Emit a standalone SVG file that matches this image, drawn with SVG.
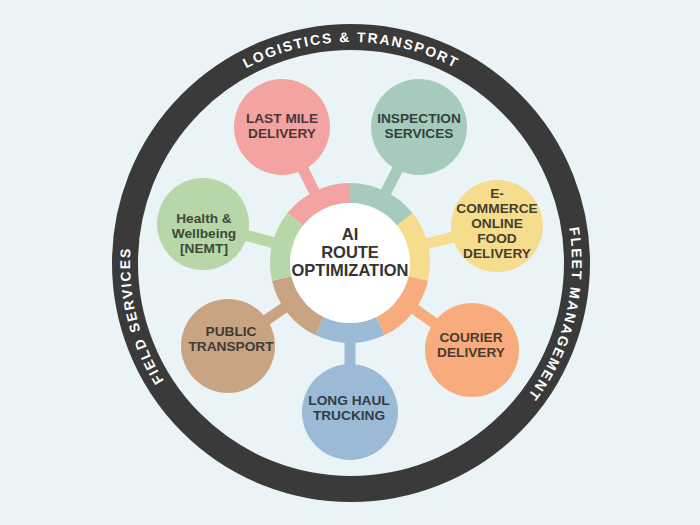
<svg xmlns="http://www.w3.org/2000/svg" width="700" height="525" viewBox="0 0 700 525">
<style>
text{font-family:"Liberation Sans",Arial,sans-serif;font-weight:bold;text-anchor:middle}
.lbl{font-size:13.7px}
.arc{font-size:14px;fill:#ffffff;letter-spacing:1.8px}
.hubt{font-size:16.5px;fill:#333333}
.con{stroke-width:11;fill:none}
.seg{stroke-width:20;fill:none}
</style>
<defs>
<path id="arcTop" d="M130,263 A221,221 0 0 1 572,263"/>
<path id="arcLeft" d="M351,484 A221,221 0 0 1 351,42"/>
<path id="arcRight" d="M351,42 A221,221 0 0 1 351,484"/>
</defs>
<rect width="700" height="525" fill="#eaf3f5"/>
<g id="frame">
<circle cx="351" cy="263" r="226" fill="none" stroke="#3a3a3a" stroke-width="26"/>
<text class="arc"><textPath href="#arcTop" startOffset="50%">LOGISTICS &amp; TRANSPORT</textPath></text>
<text class="arc"><textPath href="#arcLeft" startOffset="42.2%">FIELD SERVICES</textPath></text>
<text class="arc"><textPath href="#arcRight" startOffset="57.8%">FLEET MANAGEMENT</textPath></text>
</g>
<g id="connectors">
<line class="con" x1="350" y1="263" x2="282" y2="127" stroke="#f4a3a3"/>
<line class="con" x1="350" y1="263" x2="419" y2="127" stroke="#a6cbbd"/>
<line class="con" x1="350" y1="263" x2="497" y2="226" stroke="#f6dc8d"/>
<line class="con" x1="350" y1="263" x2="472" y2="350" stroke="#f8ac7d"/>
<line class="con" x1="350" y1="263" x2="350" y2="412" stroke="#9bbad6"/>
<line class="con" x1="350" y1="263" x2="228" y2="346" stroke="#c8a482"/>
<line class="con" x1="350" y1="263" x2="203" y2="224" stroke="#b7d7a8"/>
</g>
<g id="hub">
<path class="seg" stroke="#a6cbbd" d="M350,193 A70,70 0 0 1 404.73,219.35"/>
<path class="seg" stroke="#f6dc8d" d="M404.73,219.35 A70,70 0 0 1 418.25,278.58"/>
<path class="seg" stroke="#f8ac7d" d="M418.25,278.58 A70,70 0 0 1 380.37,326.07"/>
<path class="seg" stroke="#9bbad6" d="M380.37,326.07 A70,70 0 0 1 319.63,326.07"/>
<path class="seg" stroke="#c8a482" d="M319.63,326.07 A70,70 0 0 1 281.75,278.58"/>
<path class="seg" stroke="#b7d7a8" d="M281.75,278.58 A70,70 0 0 1 295.27,219.35"/>
<path class="seg" stroke="#f4a3a3" d="M295.27,219.35 A70,70 0 0 1 350,193"/>
<circle cx="350" cy="263" r="60" fill="#ffffff"/>
<text class="hubt" x="350" y="240">AI</text>
<text class="hubt" x="350" y="258">ROUTE</text>
<text class="hubt" x="350" y="276">OPTIMIZATION</text>
</g>
<g id="node-last-mile">
<circle cx="282" cy="127" r="48" fill="#f4a3a3"/>
<text class="lbl" fill="#4a3838" x="282" y="123">LAST MILE</text>
<text class="lbl" fill="#4a3838" x="282" y="138">DELIVERY</text>
</g>
<g id="node-inspection">
<circle cx="419" cy="127" r="48" fill="#a6cbbd"/>
<text class="lbl" fill="#34403c" x="419" y="123">INSPECTION</text>
<text class="lbl" fill="#34403c" x="419" y="138">SERVICES</text>
</g>
<g id="node-ecommerce">
<circle cx="497" cy="226" r="46" fill="#f6dc8d"/>
<text class="lbl" fill="#45402e" x="497" y="198">E-</text>
<text class="lbl" fill="#45402e" x="497" y="213">COMMERCE</text>
<text class="lbl" fill="#45402e" x="497" y="228">ONLINE</text>
<text class="lbl" fill="#45402e" x="497" y="243">FOOD</text>
<text class="lbl" fill="#45402e" x="497" y="258">DELIVERY</text>
</g>
<g id="node-courier">
<circle cx="472" cy="350" r="47" fill="#f8ac7d"/>
<text class="lbl" fill="#4a3a30" x="471" y="342">COURIER</text>
<text class="lbl" fill="#4a3a30" x="471" y="357">DELIVERY</text>
</g>
<g id="node-long-haul">
<circle cx="350" cy="412" r="48" fill="#9bbad6"/>
<text class="lbl" fill="#2f3c4a" x="349" y="405">LONG HAUL</text>
<text class="lbl" fill="#2f3c4a" x="349" y="420">TRUCKING</text>
</g>
<g id="node-public">
<circle cx="228" cy="346" r="47" fill="#c8a482"/>
<text class="lbl" fill="#3f3a35" x="231" y="336">PUBLIC</text>
<text class="lbl" fill="#3f3a35" x="231" y="351">TRANSPORT</text>
</g>
<g id="node-health">
<circle cx="203" cy="224" r="46" fill="#b7d7a8"/>
<text class="lbl" fill="#3b4a3a" x="204" y="223">Health &amp;</text>
<text class="lbl" fill="#3b4a3a" x="204" y="238">Wellbeing</text>
<text class="lbl" fill="#3b4a3a" x="204" y="253">[NEMT]</text>
</g>
</svg>
